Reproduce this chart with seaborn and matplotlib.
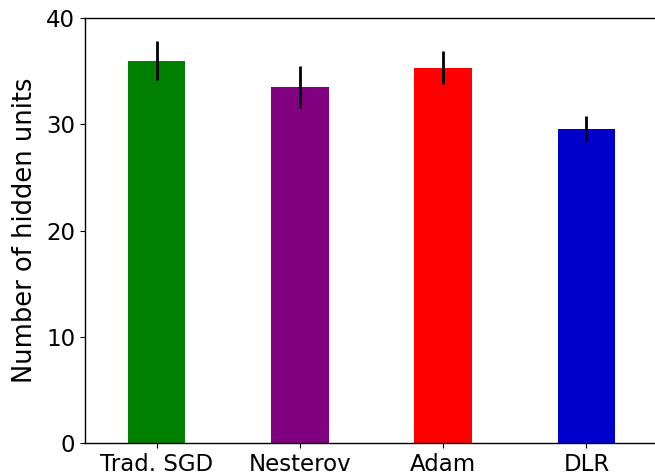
import matplotlib
matplotlib.use("Agg")
import matplotlib.pyplot as plt
import seaborn as sns
import pandas as pd

categories = ["Trad. SGD", "Nesterov", "Adam", "DLR"]
means = [36.0, 33.5, 35.3, 29.55]
errors = [1.8, 1.95, 1.55, 1.2]
colors = ["#008000", "#800080", "#ff0000", "#0000cc"]

df = pd.DataFrame({"method": categories, "units": means})

fig = plt.figure(figsize=(6.55, 4.75), dpi=100)
ax = fig.add_axes([85/655, 32/475, 573/655, 425/475])
sns.barplot(data=df, x="method", y="units", hue="method", palette=colors,
            width=0.4, errorbar=None, legend=False, ax=ax, saturation=1)
ax.errorbar(range(len(categories)), means, yerr=errors, fmt="none",
            ecolor="black", elinewidth=2, capsize=0)
ax.set_xlim(-0.5, 3.5)
ax.set_ylim(0, 40)
ax.set_yticks([0, 10, 20, 30, 40])
ax.set_xlabel("")
ax.set_ylabel("Number of hidden units", fontsize=18.5, labelpad=6)
ax.tick_params(axis="both", labelsize=16.5)
for s in ax.spines.values():
    s.set_linewidth(1.0)
fig.savefig("out.png", dpi=100)
